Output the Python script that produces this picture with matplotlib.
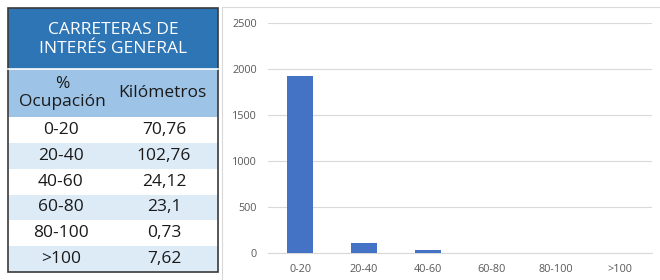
import numpy as np
import matplotlib.pyplot as plt
from matplotlib.patches import Rectangle

# table data
title_lines = ['CARRETERAS DE', 'INTERÉS GENERAL']
col_heads = ['%\nOcupación', 'Kilómetros']
rangos = ['0-20', '20-40', '40-60', '60-80', '80-100', '>100']
km = ['70,76', '102,76', '24,12', '23,1', '0,73', '7,62']

# bar chart data
bar_cats = ['0-20', '20-40', '40-60', '60-80', '80-100', '>100']
bar_vals = [1922, 112, 30, 4, 1, 2]

plt.rcParams['font.family'] = ['Open Sans', 'DejaVu Sans']

fig = plt.figure(figsize=(6.6, 2.8), dpi=100)

# background axes in pixel units for the table
bg = fig.add_axes([0, 0, 1, 1])
bg.set_xlim(0, 660)
bg.set_ylim(280, 0)
bg.axis('off')

x0, x1 = 8, 218
title_top, title_bot = 8, 69
head_bot = 117
row_h = (272 - head_bot) / len(rangos)
fs = 12.5

bg.add_patch(Rectangle((x0, title_top), x1 - x0, title_bot - title_top, color='#2E75B6', lw=0))
bg.text((x0 + x1) / 2, (title_top + title_bot) / 2 + 1, '\n'.join(title_lines), color='white',
        fontsize=fs, ha='center', va='center', linespacing=1.25)
bg.add_patch(Rectangle((x0, title_bot), x1 - x0, head_bot - title_bot, color='#9DC3E6', lw=0))
bg.text(62, (title_bot + head_bot) / 2, col_heads[0], fontsize=fs,
        ha='center', va='center', linespacing=1.2, color='#1a1a1a')
bg.text(162, (title_bot + head_bot) / 2, col_heads[1], fontsize=fs,
        ha='center', va='center', color='#1a1a1a')
bg.plot([x0, x1], [title_bot, title_bot], color='white', lw=1.2)

for i, (r, k) in enumerate(zip(rangos, km)):
    y = head_bot + i * row_h
    fc = 'white' if i % 2 == 0 else '#DDEBF7'
    bg.add_patch(Rectangle((x0, y), x1 - x0, row_h, color=fc, lw=0))
    bg.text(61, y + row_h / 2, r, fontsize=fs, ha='center', va='center', color='#1a1a1a')
    bg.text(164, y + row_h / 2, k, fontsize=fs, ha='center', va='center', color='#1a1a1a')

bg.add_patch(Rectangle((x0, title_top), x1 - x0, 272 - title_top, fill=False,
                       edgecolor='#3a3a3a', lw=1.2))
# chart frame
bg.add_patch(Rectangle((222, 7), 440, 276, fill=False, edgecolor='#d9d9d9', lw=0.8))

# bar chart
ax = fig.add_axes([268 / 660, 1 - 253 / 280, 384 / 660, 230 / 280])
x = np.arange(len(bar_cats))
ax.bar(x, bar_vals, width=0.4, color='#4472C4', zorder=3)
ax.set_xlim(-0.5, len(bar_cats) - 0.5)
ax.set_ylim(0, 2500)
ax.set_yticks(np.arange(0, 2501, 500))
ax.set_xticks(x)
ax.set_xticklabels(bar_cats)
ax.yaxis.grid(True, color='#d9d9d9', lw=0.8, zorder=0)
for s in ['top', 'right', 'left']:
    ax.spines[s].set_visible(False)
ax.spines['bottom'].set_color('#d9d9d9')
ax.tick_params(axis='both', length=0, labelsize=7.8, colors='#595959', pad=8)
ax.patch.set_alpha(0)

plt.savefig('out.png', dpi=100)
plt.close()
